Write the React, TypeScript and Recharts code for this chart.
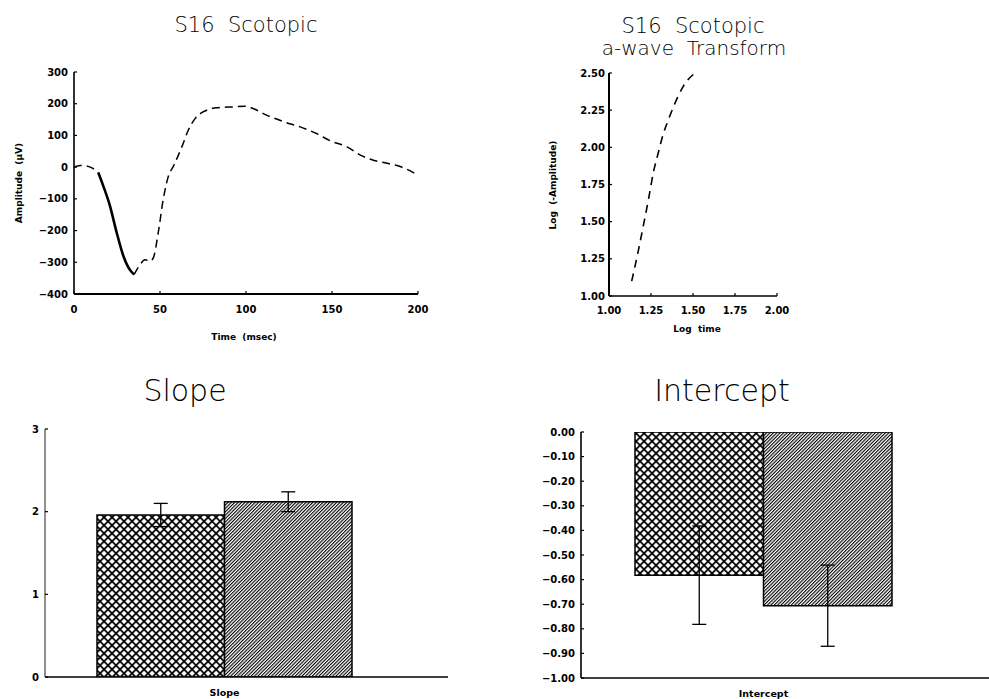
import React from 'react';
import { LineChart, Line, XAxis, YAxis, BarChart, Bar, ErrorBar } from 'recharts';

// ---- Top-left: S16 Scotopic waveform ----
const earlyTime = [0, 3.5, 7, 11, 14.1];
const earlyAmp = [0, 5, 4, -4, -17];
const aWaveTime = [14.1, 17, 20.9, 24.8, 28.7, 31.6, 34.1, 35];
const aWaveAmp = [-17, -59, -122, -206, -280, -316, -334, -338];
const lateTime = [35, 37.4, 41.3, 44.2, 46.1, 49, 51.9, 54.8, 58, 62.7, 66.5, 70.4, 75, 83, 92.7, 99.5, 104, 112, 122, 131.5, 141, 149, 158.7, 166.5, 174, 182, 190, 200];
const lateAmp = [-338, -316, -292, -296, -286, -206, -101, -30, 5, 64, 117, 153, 174, 187, 190, 192, 185, 164, 143, 127, 106, 83, 64, 38, 22, 12, 1, -25];
const timeTicks = [0, 50, 100, 150, 200];
const ampTicks = [-400, -300, -200, -100, 0, 100, 200, 300];

// ---- Top-right: a-wave transform ----
const logTime = [1.135, 1.17, 1.204, 1.235, 1.264, 1.295, 1.323, 1.355, 1.383, 1.412, 1.442, 1.47, 1.502];
const logAmp = [1.1, 1.28, 1.47, 1.65, 1.83, 1.97, 2.09, 2.19, 2.27, 2.345, 2.41, 2.455, 2.49];
const logTimeTicks = [1, 1.25, 1.5, 1.75, 2];
const logAmpTicks = [1, 1.25, 1.5, 1.75, 2, 2.25, 2.5];

// ---- Bottom-left: Slope ----
const slopeMeans = [1.96, 2.12];
const slopeErrs = [0.14, 0.12];
const slopeTicks = [0, 1, 2, 3];

// ---- Bottom-right: Intercept ----
const interceptMeans = [-0.582, -0.706];
const interceptErrs = [0.2, 0.165];
const interceptTicks = [-1, -0.9, -0.8, -0.7, -0.6, -0.5, -0.4, -0.3, -0.2, -0.1, 0];

const zip = (xs: number[], ys: number[], kx: string, ky: string) =>
  xs.map((x, i) => ({ [kx]: x, [ky]: ys[i] }));

const earlyData = zip(earlyTime, earlyAmp, 't', 'a');
const aWaveData = zip(aWaveTime, aWaveAmp, 't', 'a');
const lateData = zip(lateTime, lateAmp, 't', 'a');
const logData = zip(logTime, logAmp, 'lt', 'la');
const slopeData = [{ name: 'Slope', g1: slopeMeans[0], e1: slopeErrs[0], g2: slopeMeans[1], e2: slopeErrs[1] }];
const interceptData = [{ name: 'Intercept', g1: interceptMeans[0], e1: interceptErrs[0], g2: interceptMeans[1], e2: interceptErrs[1] }];

const FONT = 'DejaVu Sans';
const tickStyle = { fontSize: 10, fontWeight: 700, fill: '#000', fontFamily: FONT };
const axisLineStyle = { stroke: '#000', strokeWidth: 1.6 };
const tickLineStyle = { stroke: '#000', strokeWidth: 1.2 };
const minus = (s: string) => s.replace('-', '\u2212');

export default function App() {
  return (
    <div style={{ position: 'absolute', left: 0, top: 0, width: 989, height: 699, background: '#fff', overflow: 'hidden' }}>
      <svg width={0} height={0} style={{ position: 'absolute' }}>
        <defs>
          <pattern id="crossHatch" patternUnits="userSpaceOnUse" width={5.66} height={5.66} patternTransform="rotate(45)">
            <rect x={0} y={0} width={5.66} height={5.66} fill="#fff" />
            <rect x={0} y={0} width={5.66} height={1.7} fill="#000" />
            <rect x={0} y={0} width={1.7} height={5.66} fill="#000" />
          </pattern>
          <pattern id="diagHatch" patternUnits="userSpaceOnUse" width={2.4} height={2.4} patternTransform="rotate(-45)">
            <rect x={0} y={0} width={2.4} height={2.4} fill="#fff" />
            <rect x={0} y={0} width={2.4} height={1.1} fill="#000" />
          </pattern>
        </defs>
      </svg>

      {/* Top-left waveform */}
      <div style={{ position: 'absolute', left: 0, top: 0 }}>
        <LineChart width={440} height={350} margin={{ top: 72, right: 22, bottom: 26, left: 24 }}>
          <XAxis type="number" dataKey="t" domain={[0, 200]} ticks={timeTicks} allowDataOverflow
            axisLine={{ stroke: '#000', strokeWidth: 2 }} tickLine={tickLineStyle} tickSize={-3} tickMargin={15}
            tick={tickStyle} height={30} />
          <YAxis type="number" dataKey="a" domain={[-400, 300]} ticks={ampTicks} allowDataOverflow
            axisLine={axisLineStyle} tickLine={tickLineStyle} tickSize={-3} tickMargin={9}
            tick={tickStyle} width={50} tickFormatter={(v: number) => minus(String(v))} />
          <Line data={earlyData} dataKey="a" type="monotone" stroke="#000" strokeWidth={1.5} strokeDasharray="8 5" dot={false} isAnimationActive={false} />
          <Line data={aWaveData} dataKey="a" type="monotone" stroke="#000" strokeWidth={2.6} dot={false} isAnimationActive={false} />
          <Line data={lateData} dataKey="a" type="monotone" stroke="#000" strokeWidth={1.5} strokeDasharray="8 5" dot={false} isAnimationActive={false} />
        </LineChart>
      </div>

      {/* Top-right transform */}
      <div style={{ position: 'absolute', left: 500, top: 0 }}>
        <LineChart width={300} height={350} margin={{ top: 73, right: 23, bottom: 24, left: 59 }}>
          <XAxis type="number" dataKey="lt" domain={[1, 2]} ticks={logTimeTicks} allowDataOverflow
            axisLine={axisLineStyle} tickLine={tickLineStyle} tickSize={-3} tickMargin={14}
            tick={tickStyle} height={30} tickFormatter={(v: number) => v.toFixed(2)} />
          <YAxis type="number" dataKey="la" domain={[1, 2.5]} ticks={logAmpTicks} allowDataOverflow
            axisLine={{ stroke: '#000', strokeWidth: 2 }} tickLine={tickLineStyle} tickSize={-3} tickMargin={7}
            tick={tickStyle} width={50} tickFormatter={(v: number) => v.toFixed(2)} />
          <Line data={logData} dataKey="la" type="monotone" stroke="#000" strokeWidth={1.6} strokeDasharray="8 6" dot={false} isAnimationActive={false} />
        </LineChart>
      </div>

      {/* Bottom-left Slope */}
      <div style={{ position: 'absolute', left: 0, top: 380 }}>
        <BarChart width={460} height={319} data={slopeData} barGap={0} barSize={127.5}
          margin={{ top: 49, right: 12, bottom: 2, left: 10 }}>
          <XAxis dataKey="name" type="category" padding={{ left: 0, right: 44 }}
            axisLine={axisLineStyle} tickLine={false} tickSize={0} tickMargin={12}
            tick={{ ...tickStyle, fontSize: 9.5 }} height={20} />
          <YAxis type="number" domain={[0, 3]} ticks={slopeTicks} allowDataOverflow
            axisLine={{ stroke: '#444', strokeWidth: 1.2 }} tickLine={tickLineStyle} tickSize={-3} tickMargin={9}
            tick={tickStyle} width={35} />
          <Bar dataKey="g1" fill="url(#crossHatch)" stroke="#000" strokeWidth={1.5} isAnimationActive={false}>
            <ErrorBar dataKey="e1" width={7} stroke="#000" strokeWidth={1.3} direction="y" isAnimationActive={false} />
          </Bar>
          <Bar dataKey="g2" fill="url(#diagHatch)" stroke="#000" strokeWidth={1.5} isAnimationActive={false}>
            <ErrorBar dataKey="e2" width={7} stroke="#000" strokeWidth={1.3} direction="y" isAnimationActive={false} />
          </Bar>
        </BarChart>
      </div>

      {/* Bottom-right Intercept */}
      <div style={{ position: 'absolute', left: 520, top: 380 }}>
        <BarChart width={469} height={319} data={interceptData} barGap={0} barSize={128.5}
          margin={{ top: 52, right: 0, bottom: 1, left: 6 }}>
          <XAxis dataKey="name" type="category" padding={{ left: 0, right: 43 }}
            axisLine={axisLineStyle} tickLine={false} tickSize={0} tickMargin={12}
            tick={{ ...tickStyle, fontSize: 9.5 }} height={20} />
          <YAxis type="number" domain={[-1, 0]} ticks={interceptTicks} allowDataOverflow
            axisLine={axisLineStyle} tickLine={tickLineStyle} tickSize={-3} tickMargin={9}
            tick={tickStyle} width={55} tickFormatter={(v: number) => minus(v.toFixed(2))} />
          <Bar dataKey="g1" fill="url(#crossHatch)" stroke="#000" strokeWidth={1.5} isAnimationActive={false}>
            <ErrorBar dataKey="e1" width={7} stroke="#000" strokeWidth={1.3} direction="y" isAnimationActive={false} />
          </Bar>
          <Bar dataKey="g2" fill="url(#diagHatch)" stroke="#000" strokeWidth={1.5} isAnimationActive={false}>
            <ErrorBar dataKey="e2" width={7} stroke="#000" strokeWidth={1.3} direction="y" isAnimationActive={false} />
          </Bar>
        </BarChart>
      </div>

      {/* Titles and axis labels */}
      <svg width={989} height={699} style={{ position: 'absolute', left: 0, top: 0, pointerEvents: 'none' }}
        fontFamily={FONT}>
        <text x={246} y={32} textAnchor="middle" fontSize={21} fontWeight={200} fill="#000" xmlSpace="preserve">S16  Scotopic</text>
        <text x={693} y={33} textAnchor="middle" fontSize={21} fontWeight={200} fill="#000" xmlSpace="preserve">S16  Scotopic</text>
        <text x={694} y={55} textAnchor="middle" fontSize={20} fontWeight={200} fill="#000" xmlSpace="preserve">a-wave  Transform</text>
        <text x={185} y={401} textAnchor="middle" fontSize={30} fontWeight={200} fill="#000">Slope</text>
        <text x={722} y={401} textAnchor="middle" fontSize={30} fontWeight={200} fill="#000">Intercept</text>

        <text x={244} y={337} textAnchor="middle" dominantBaseline="central" fontSize={9} fontWeight={700} fill="#000" xmlSpace="preserve">Time  (msec)</text>
        <text transform="translate(19,183) rotate(-90)" textAnchor="middle" dominantBaseline="central" fontSize={9} fontWeight={700} fill="#000" xmlSpace="preserve">Amplitude  ({'\u03bc'}V)</text>
        <text x={697} y={329} textAnchor="middle" dominantBaseline="central" fontSize={9} fontWeight={700} fill="#000" xmlSpace="preserve">Log  time</text>
        <text transform="translate(553,185) rotate(-90)" textAnchor="middle" dominantBaseline="central" fontSize={9} fontWeight={700} fill="#000" xmlSpace="preserve">Log  (-Amplitude)</text>
      </svg>
    </div>
  );
}
